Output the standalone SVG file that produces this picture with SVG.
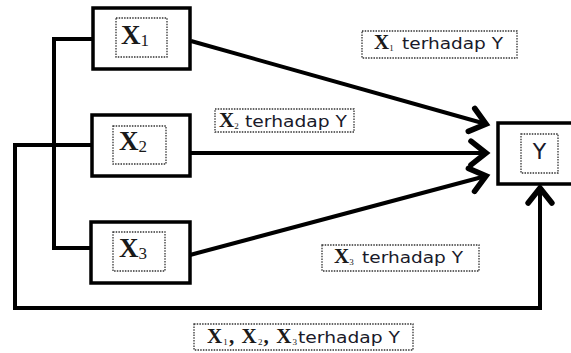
<svg xmlns="http://www.w3.org/2000/svg" width="571" height="353" viewBox="0 0 571 353">
  <style>
    .box { fill: #fff; stroke: #000; stroke-width: 3.5; }
    .dot { fill: none; stroke: #333; stroke-width: 1.3; stroke-dasharray: 1.5 1.2; }
    .line { fill: none; stroke: #000; stroke-width: 4; stroke-linejoin: miter; }
    .var { font-family: "Liberation Serif", "Times New Roman", serif; fill: #1a1a1a; font-weight: bold; }
    .sub { font-weight: normal; }
    .sans { font-family: "DejaVu Sans", Verdana, sans-serif; fill: #1a1a2a; }
  </style>
  <defs>
    <marker id="head" markerUnits="userSpaceOnUse" markerWidth="30" markerHeight="30" viewBox="-16 -12 20 24" refX="0" refY="0" orient="auto">
      <path d="M -12,-9.5 L 0,0 L -12,9.5" fill="none" stroke="#000" stroke-width="4.5" stroke-linecap="round" stroke-linejoin="miter"/>
    </marker>
  </defs>

  <rect width="571" height="353" fill="#fff"/>

  <!-- connectors -->
  <g id="connectors">
    <path class="line" d="M 93,39 H 54 V 248 H 91"/>
    <path class="line" d="M 92,145 H 15 V 308 H 540 V 188" marker-end="url(#head)"/>
    <path class="line" d="M 191,41 L 486,124" marker-end="url(#head)"/>
    <path class="line" d="M 190,153 L 486,153" marker-end="url(#head)"/>
    <path class="line" d="M 190,255 L 486,176" marker-end="url(#head)"/>
  </g>

  <!-- nodes -->
  <g id="x1">
    <rect class="box" x="93" y="8" width="97" height="61"/>
    <rect class="dot" x="116" y="18" width="51" height="39"/>
    <text class="var" x="121" y="44" font-size="27">X<tspan class="sub" font-size="17" dy="2">1</tspan></text>
  </g>
  <g id="x2">
    <rect class="box" x="92" y="115" width="98" height="61"/>
    <rect class="dot" x="113" y="126" width="53" height="38"/>
    <text class="var" x="119" y="150" font-size="27">X<tspan class="sub" font-size="17" dy="2">2</tspan></text>
  </g>
  <g id="x3">
    <rect class="box" x="91" y="222" width="99" height="61"/>
    <rect class="dot" x="113" y="232" width="52" height="39"/>
    <text class="var" x="119" y="257" font-size="27">X<tspan class="sub" font-size="17" dy="2">3</tspan></text>
  </g>
  <g id="y">
    <rect class="box" x="498" y="123" width="80" height="61"/>
    <rect class="dot" x="521" y="134" width="37" height="39"/>
    <text class="sans" x="539.5" y="159" font-size="22" text-anchor="middle">Y</text>
  </g>

  <!-- effect labels -->
  <g id="label-x1">
    <rect class="dot" x="362" y="31" width="155" height="27"/>
    <text class="var" x="374" y="49" font-size="21">X<tspan class="sub" font-size="9" dy="2">1</tspan></text>
    <text class="sans" x="402" y="49" font-size="15" textLength="101" lengthAdjust="spacingAndGlyphs">terhadap Y</text>
  </g>
  <g id="label-x2">
    <rect class="dot" x="215" y="109" width="139" height="23"/>
    <text class="var" x="219" y="127" font-size="21">X<tspan class="sub" font-size="9" dy="2">2</tspan></text>
    <text class="sans" x="245" y="127" font-size="15" textLength="102" lengthAdjust="spacingAndGlyphs">terhadap Y</text>
  </g>
  <g id="label-x3">
    <rect class="dot" x="322" y="245" width="157" height="26"/>
    <text class="var" x="334" y="263" font-size="21">X<tspan class="sub" font-size="9" dy="2">3</tspan></text>
    <text class="sans" x="362" y="263" font-size="15" textLength="101" lengthAdjust="spacingAndGlyphs">terhadap Y</text>
  </g>
  <g id="label-all">
    <rect class="dot" x="194" y="324" width="219" height="26"/>
    <text class="var" x="207" y="343" font-size="21" textLength="90" lengthAdjust="spacing">X<tspan class="sub" font-size="9" dy="2">1</tspan><tspan dy="-2">, X</tspan><tspan class="sub" font-size="9" dy="2">2</tspan><tspan dy="-2">, X</tspan><tspan class="sub" font-size="9" dy="2">3</tspan></text>
    <text class="sans" x="298" y="343" font-size="15" textLength="102" lengthAdjust="spacingAndGlyphs">terhadap Y</text>
  </g>
</svg>
